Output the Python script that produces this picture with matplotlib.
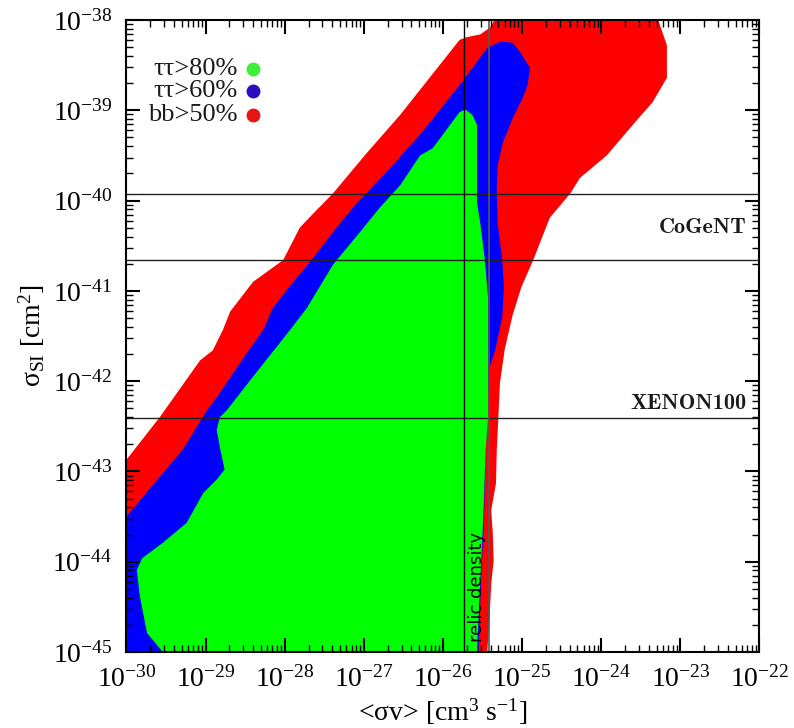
import numpy as np
import matplotlib
matplotlib.use('Agg')
import matplotlib.pyplot as plt
from matplotlib.ticker import FixedLocator, NullFormatter

plt.rcParams['font.family'] = ['Liberation Serif', 'DejaVu Serif']
plt.rcParams['mathtext.fontset'] = 'custom'
plt.rcParams['mathtext.rm'] = 'Liberation Serif'
plt.rcParams['mathtext.it'] = 'Liberation Serif:italic'
plt.rcParams['mathtext.bf'] = 'Liberation Serif:bold'

# region outlines, log10 of <sigma v> and log10 of sigma_SI
red_lsv = [-30, -30, -29.58, -29.07, -28.91, -28.78, -28.69, -28.40, -28.10, -28.02,
           -27.81, -27.68, -27.39, -26.96, -26.54, -25.79, -25.70, -25.53, -25.40, -25.32,
           -23.30, -23.17, -23.17, -23.35, -23.60, -23.93, -24.27, -24.39, -24.65, -24.86,
           -25.01, -25.12, -25.22, -25.28, -25.30, -25.32, -25.33, -25.39, -25.37, -25.36,
           -25.39, -25.41, -25.44]
red_lsig = [-45, -42.87, -42.40, -41.77, -41.66, -41.43, -41.23, -40.90, -40.71, -40.66,
            -40.30, -40.18, -39.92, -39.47, -39.05, -38.22, -38.19, -38.16, -38.08, -37.95,
            -37.95, -38.28, -38.64, -38.91, -39.16, -39.50, -39.75, -39.92, -40.19, -40.66,
            -40.96, -41.27, -41.65, -42.02, -42.40, -42.76, -43.13, -43.43, -43.69, -43.99,
            -44.24, -44.61, -45.0]

blue_lsv = [-30, -30, -29.58, -29.29, -28.98, -28.86, -28.48, -28.27, -28.15, -27.93,
            -27.68, -27.39, -27.14, -26.96, -26.71, -26.29, -25.79, -25.44, -25.28, -25.12,
            -25.03, -24.90, -24.93, -24.99, -25.12, -25.24, -25.31, -25.32, -25.31, -25.25,
            -25.23, -25.25, -25.34, -25.41, -25.43, -25.46, -25.48, -25.52, -25.55]
blue_lsig = [-45, -43.50, -43.06, -42.76, -42.32, -42.18, -41.69, -41.43, -41.19, -40.94,
             -40.68, -40.35, -40.08, -39.91, -39.68, -39.27, -38.72, -38.31, -38.24, -38.25,
             -38.35, -38.53, -38.72, -38.86, -39.09, -39.35, -39.61, -39.86, -40.24, -40.66,
             -40.96, -41.29, -41.66, -41.84, -42.21, -42.76, -43.50, -44.24, -45.0]

green_lsv = [-29.54, -29.74, -29.83, -29.87, -29.80, -29.54, -29.24, -29.03, -28.86, -28.76,
             -28.82, -28.86, -28.82, -28.73, -28.40, -27.93, -27.72, -27.39, -27.05, -26.80,
             -26.54, -26.29, -26.13, -25.79, -25.72, -25.63, -25.57, -25.57, -25.57, -25.53,
             -25.47, -25.43, -25.43, -25.46, -25.49, -25.53, -25.57]
green_lsig = [-45, -44.79, -44.39, -44.09, -43.96, -43.79, -43.57, -43.24, -43.09, -42.98,
              -42.73, -42.54, -42.40, -42.32, -41.95, -41.43, -41.19, -40.71, -40.35, -40.08,
              -39.83, -39.50, -39.42, -39.02, -38.99, -39.05, -39.16, -39.61, -40.02, -40.24,
              -40.66, -41.08, -42.40, -42.76, -43.50, -44.24, -45.0]

hline_vals = [1.19e-40, 2.2e-41, 3.95e-43]
vline_vals = [1.82e-26, 3.84e-26]
exp_labels = ['CoGeNT', 'XENON100']
exp_label_y = [5.0e-41, 5.6e-43]

leg_labels = ['ττ>80%', 'ττ>60%', 'bb>50%']
leg_colors = ['#3cef3c', '#2a0fbf', '#e81515']

x_dec = np.arange(-30, -21)
y_dec = np.arange(-45, -37)

fig = plt.figure(figsize=(7.94, 7.28), dpi=100)
ax = fig.add_axes([0.1593, 0.1044, 0.7972, 0.8681])
ax.set_xscale('log')
ax.set_yscale('log')

# fills and lines stay below the ticks (axis zorder 1.5)
ax.fill(10.0**np.array(red_lsv), 10.0**np.array(red_lsig), color='#ff0000', lw=0, zorder=0.2)
ax.fill(10.0**np.array(blue_lsv), 10.0**np.array(blue_lsig), color='#0000ff', lw=0, zorder=0.3)
ax.fill(10.0**np.array(green_lsv), 10.0**np.array(green_lsig), color='#00ff00', lw=0, zorder=0.4)

for h in hline_vals:
    ax.axhline(h, color='#222222', lw=1.0, zorder=1)
ax.axvline(vline_vals[0], color='black', lw=1.0, zorder=1)
ax.axvline(vline_vals[1], color='#555555', lw=1.2, zorder=1)

ax.text(2.7e-26, 1.3e-45, 'relic density', rotation=90, ha='center', va='bottom',
        fontsize=13, family='DejaVu Sans', zorder=5)

for lab, yv in zip(exp_labels, exp_label_y):
    ax.text(0.98, yv, lab, transform=ax.get_yaxis_transform(), ha='right', va='center',
            fontsize=16, family='cmb10', color='#1a1a1a', zorder=5)

leg_y = [0.9225, 0.8877, 0.8497]
for lab, col, yy in zip(leg_labels, leg_colors, leg_y):
    ax.text(0.176, yy, lab, transform=ax.transAxes, ha='right', va='center',
            fontsize=19, color='#1a1a1a')
    ax.plot([0.2], [yy], 'o', color=col, ms=9, mec=col, transform=ax.transAxes, clip_on=False)

ax.set_xlim(1e-30, 1e-22)
ax.set_ylim(1e-45, 1e-38)
ax.xaxis.set_major_locator(FixedLocator(10.0**x_dec))
ax.yaxis.set_major_locator(FixedLocator(10.0**y_dec))
ax.xaxis.set_minor_locator(FixedLocator([m * 10.0**e for e in x_dec[:-1] for m in range(2, 10)]))
ax.yaxis.set_minor_locator(FixedLocator([m * 10.0**e for e in y_dec[:-1] for m in range(2, 10)]))
ax.xaxis.set_minor_formatter(NullFormatter())
ax.yaxis.set_minor_formatter(NullFormatter())
ax.xaxis.set_major_formatter(plt.FuncFormatter(lambda v, p: '$\\mathdefault{10^{%d}}$' % round(np.log10(v))))
ax.yaxis.set_major_formatter(plt.FuncFormatter(lambda v, p: '$\\mathdefault{10^{%d}}$' % round(np.log10(v))))

ax.tick_params(which='both', direction='in', top=True, right=True)
ax.tick_params(which='major', length=10, width=1.5, labelsize=20)
ax.tick_params(which='minor', length=5, width=1.0)
ax.tick_params(axis='x', which='major', pad=10)
ax.tick_params(axis='y', which='major', pad=10)
for s in ax.spines.values():
    s.set_linewidth(1.5)

ax.set_xlabel('<σv> [cm$^3$ s$^{-1}$]', fontsize=20, labelpad=3)
ax.set_ylabel('σ$_{\\mathrm{SI}}$ [cm$^2$]', fontsize=20, labelpad=4)

plt.savefig('out.png', dpi=100)
